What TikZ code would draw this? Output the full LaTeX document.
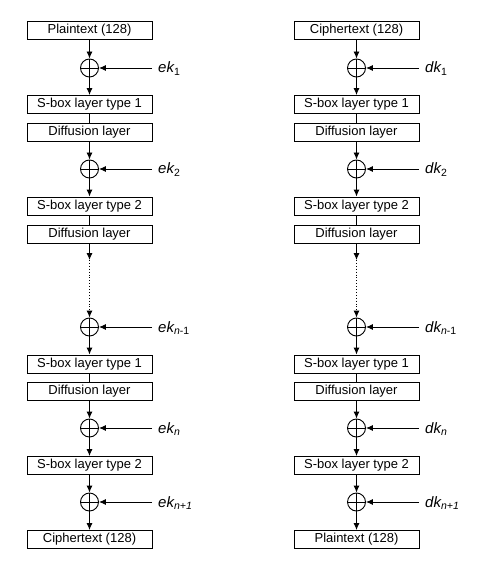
\documentclass[tikz,border=0pt]{standalone}
\usepackage{fontspec}
\setmainfont{Liberation Sans}
\usetikzlibrary{arrows.meta}

\tikzset{
  layer/.style={draw, line width=0.9pt, minimum width=125pt, minimum height=18pt, inner sep=0pt, font=\fontsize{13}{15}\selectfont},
  xorop/.style={draw, circle, line width=0.9pt, minimum size=18pt, inner sep=0pt,
    path picture={\draw[line width=0.9pt] (path picture bounding box.north) -- (path picture bounding box.south)
      (path picture bounding box.west) -- (path picture bounding box.east);}},
  keylbl/.style={anchor=base west, inner sep=0pt, font=\fontsize{15}{17}\selectfont\itshape},
  arr/.style={line width=0.9pt, -{Latex[length=7pt,width=6pt]}},
  ln/.style={line width=0.9pt}
}

\begin{document}
\begin{tikzpicture}[x=1pt,y=-1pt]
\useasboundingbox (0,0) rectangle (479,564);

% encryption
\node[layer] (ept) at (89.5,30) {Plaintext (128)};
\node[xorop] (ex1) at (89.5,68) {};
\node[layer] (es1) at (89.5,104.5) {S-box layer type 1};
\node[layer] (ed1) at (89.5,132) {Diffusion layer};
\node[xorop] (ex2) at (89.5,169) {};
\node[layer] (es2) at (89.5,206) {S-box layer type 2};
\node[layer] (ed2) at (89.5,234) {Diffusion layer};
\coordinate (edots) at (89.5,260);
\node[xorop] (ex3) at (89.5,327) {};
\node[layer] (es3) at (89.5,364) {S-box layer type 1};
\node[layer] (ed3) at (89.5,391.5) {Diffusion layer};
\node[xorop] (ex4) at (89.5,428) {};
\node[layer] (es4) at (89.5,465.5) {S-box layer type 2};
\node[xorop] (ex5) at (89.5,502) {};
\node[layer] (ect) at (89.5,539.5) {Ciphertext (128)};

\coordinate (ek1) at (152,68);
\coordinate (ek2) at (152,169);
\coordinate (ek3) at (152,327);
\coordinate (ek4) at (152,428);
\coordinate (ek5) at (152,502);
\node[keylbl] (ekl1) at (158,73) {ek\textsubscript{\upshape 1}};
\node[keylbl] (ekl2) at (158,174) {ek\textsubscript{\upshape 2}};
\node[keylbl] (ekl3) at (158,332) {ek\textsubscript{n\upshape -1}};
\node[keylbl] (ekl4) at (158,433) {ek\textsubscript{n}};
\node[keylbl] (ekl5) at (158,507) {ek\textsubscript{n+1}};

\draw[arr] (ept) -- (ex1);
\draw[arr] (ex1) -- (es1);
\draw[ln] (es1) -- (ed1);
\draw[arr] (ed1) -- (ex2);
\draw[arr] (ex2) -- (es2);
\draw[ln] (es2) -- (ed2);
\draw[arr] (ed2) -- (edots);
\draw[arr, dotted] (edots) -- (ex3);
\draw[arr] (ex3) -- (es3);
\draw[ln] (es3) -- (ed3);
\draw[arr] (ed3) -- (ex4);
\draw[arr] (ex4) -- (es4);
\draw[arr] (es4) -- (ex5);
\draw[arr] (ex5) -- (ect);
\draw[arr] (ek1) -- (ex1);
\draw[arr] (ek2) -- (ex2);
\draw[arr] (ek3) -- (ex3);
\draw[arr] (ek4) -- (ex4);
\draw[arr] (ek5) -- (ex5);

% decryption
\node[layer] (dct) at (356.5,30) {Ciphertext (128)};
\node[xorop] (dx1) at (356.5,68) {};
\node[layer] (ds1) at (356.5,104.5) {S-box layer type 1};
\node[layer] (dd1) at (356.5,132) {Diffusion layer};
\node[xorop] (dx2) at (356.5,169) {};
\node[layer] (ds2) at (356.5,206) {S-box layer type 2};
\node[layer] (dd2) at (356.5,234) {Diffusion layer};
\coordinate (ddots) at (356.5,260);
\node[xorop] (dx3) at (356.5,327) {};
\node[layer] (ds3) at (356.5,364) {S-box layer type 1};
\node[layer] (dd3) at (356.5,391.5) {Diffusion layer};
\node[xorop] (dx4) at (356.5,428) {};
\node[layer] (ds4) at (356.5,465.5) {S-box layer type 2};
\node[xorop] (dx5) at (356.5,502) {};
\node[layer] (dpt) at (356.5,539.5) {Plaintext (128)};

\coordinate (dk1) at (419,68);
\coordinate (dk2) at (419,169);
\coordinate (dk3) at (419,327);
\coordinate (dk4) at (419,428);
\coordinate (dk5) at (419,502);
\node[keylbl] (dkl1) at (425,73) {dk\textsubscript{\upshape 1}};
\node[keylbl] (dkl2) at (425,174) {dk\textsubscript{\upshape 2}};
\node[keylbl] (dkl3) at (425,332) {dk\textsubscript{n\upshape -1}};
\node[keylbl] (dkl4) at (425,433) {dk\textsubscript{n}};
\node[keylbl] (dkl5) at (425,507) {dk\textsubscript{n+1}};

\draw[arr] (dct) -- (dx1);
\draw[arr] (dx1) -- (ds1);
\draw[ln] (ds1) -- (dd1);
\draw[arr] (dd1) -- (dx2);
\draw[arr] (dx2) -- (ds2);
\draw[ln] (ds2) -- (dd2);
\draw[arr] (dd2) -- (ddots);
\draw[arr, dotted] (ddots) -- (dx3);
\draw[arr] (dx3) -- (ds3);
\draw[ln] (ds3) -- (dd3);
\draw[arr] (dd3) -- (dx4);
\draw[arr] (dx4) -- (ds4);
\draw[arr] (ds4) -- (dx5);
\draw[arr] (dx5) -- (dpt);
\draw[arr] (dk1) -- (dx1);
\draw[arr] (dk2) -- (dx2);
\draw[arr] (dk3) -- (dx3);
\draw[arr] (dk4) -- (dx4);
\draw[arr] (dk5) -- (dx5);
\end{tikzpicture}
\end{document}
